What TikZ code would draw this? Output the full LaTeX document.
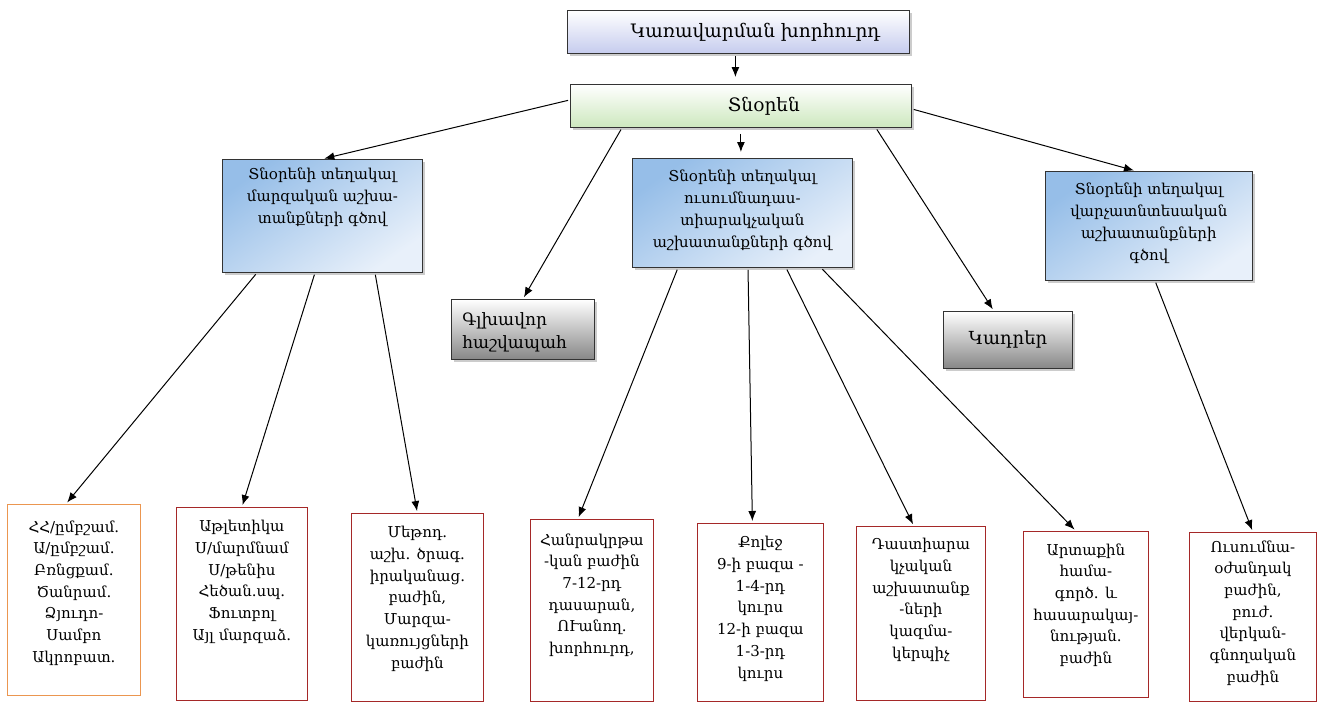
\documentclass[tikz,border=0pt]{standalone}
\usepackage{fontspec}
\setmainfont{DejaVu Serif}
\usetikzlibrary{arrows.meta,shadows}

\definecolor{lavbot}{RGB}{198,204,238}
\definecolor{greenbot}{RGB}{205,232,190}
\definecolor{bluedark}{RGB}{150,190,232}
\definecolor{bluelight}{RGB}{232,240,250}
\definecolor{greybot}{RGB}{135,135,135}
\definecolor{redline}{RGB}{165,40,40}
\definecolor{orangeline}{RGB}{235,150,80}
\newcommand{\boxtext}[4]{\parbox[c][#1][t]{#2}{\centering\vspace*{#3}#4\par}}

\begin{document}
\begin{tikzpicture}[x=1pt, y=-1pt,
  every node/.style={inner sep=0pt, font=\fontsize{15}{21.7}\selectfont},
  head/.style={draw=black!80, line width=0.8pt,
    drop shadow={opacity=0.4, shadow xshift=2.5pt, shadow yshift=-2.5pt}},
  board/.style={head, top color=white, bottom color=lavbot},
  chief/.style={head, top color=white, bottom color=greenbot},
  deputy/.style={head, top color=bluedark, bottom color=bluelight, shading angle=35},
  service/.style={head, top color=white, bottom color=greybot},
  unit/.style={draw=redline, line width=0.8pt, fill=white},
  link/.style={-{Latex[length=10pt, width=8pt]}, line width=1pt, shorten <=2pt, shorten >=2pt}]
  \useasboundingbox (0,0) rectangle (1318,702);

  \node (kh) [board, anchor=north west, minimum width=342pt, minimum height=43pt,
    font=\fontsize{18.5}{20}\selectfont] at (567,10) {\hspace*{34pt}Կառավարման խորհուրդ};
  \node (tn) [chief, anchor=north west, minimum width=341pt, minimum height=43pt,
    font=\fontsize{18.5}{20}\selectfont] at (570,84) {\hspace*{46pt}Տնօրեն};

  \node (d1) [deputy, anchor=north west] at (222,159)
    {\boxtext{113pt}{200pt}{9pt}{Տնօրենի տեղակալ\\մարզական աշխա-\\տանքների գծով}};
  \node (g) [service, anchor=north west] at (451,299)
    {\parbox[c][60pt][c]{143pt}{\leftskip=11pt\fontsize{17}{23}\selectfont\vspace*{6pt}Գլխավոր\\հաշվապահ}};
  \node (d2) [deputy, anchor=north west] at (632,158)
    {\boxtext{109pt}{220pt}{12pt}{Տնօրենի տեղակալ\\ուսումնադաս-\\տիարակչական\\աշխատանքների գծով}};
  \node (k) [service, anchor=north west, minimum width=129pt, minimum height=57pt,
    font=\fontsize{18}{20}\selectfont] at (943,311) {Կադրեր};
  \node (d3) [deputy, anchor=north west] at (1045,171)
    {\boxtext{109pt}{207pt}{12pt}{Տնօրենի տեղակալ\\վարչատնտեսական\\աշխատանքների\\գծով}};

  \node (b1) [unit, draw=orangeline, anchor=north west] at (7,504)
    {\boxtext{191pt}{133pt}{16pt}{ՀՀ/ըմբշամ.\\Ա/ըմբշամ.\\Բռնցքամ.\\Ծանրամ.\\Ձյուդո-\\Սամբո\\Ակրոբատ.}};
  \node (b2) [unit, anchor=north west] at (176,507)
    {\boxtext{193pt}{131pt}{13pt}{Աթլետիկա\\Ս/մարմնամ\\Ս/թենիս\\Հեծան.սպ.\\Ֆուտբոլ\\Այլ մարզաձ.}};
  \node (b3) [unit, anchor=north west] at (351,513)
    {\boxtext{188pt}{132pt}{13pt}{Մեթոդ.\\աշխ. ծրագ.\\իրականաց.\\բաժին,\\Մարզա-\\կառույցների\\բաժին}};
  \node (b4) [unit, anchor=north west] at (530,519)
    {\boxtext{182pt}{123pt}{14pt}{Հանրակրթա\\-կան բաժին\\7-12-րդ\\դասարան,\\ՈՒանող.\\խորհուրդ,}};
  \node (b5) [unit, anchor=north west] at (697,523)
    {\boxtext{178pt}{126pt}{13pt}{Քոլեջ\\9-ի բազա -\\1-4-րդ\\կուրս\\12-ի բազա\\1-3-րդ\\կուրս}};
  \node (b6) [unit, anchor=north west] at (856,526)
    {\boxtext{174pt}{129pt}{12pt}{Դաստիարա\\կչական\\աշխատանք\\-ների\\կազմա-\\կերպիչ}};
  \node (b7) [unit, anchor=north west] at (1023,531)
    {\boxtext{166pt}{125pt}{12pt}{Արտաքին\\համա-\\գործ. և\\հասարակայ-\\նության.\\բաժին}};
  \node (b8) [unit, anchor=north west] at (1189,532)
    {\boxtext{169pt}{127pt}{8pt}{Ուսումնա-\\օժանդակ\\բաժին,\\բուժ.\\վերկան-\\գնողական\\բաժին}};

  \draw [link, shorten >=7pt] ([xshift=-3pt]kh.south) -- ([xshift=-3pt]kh.south |- tn.north);
  \draw [link, shorten <=6pt, shorten >=6pt] (tn.south) -- (tn.south |- d2.north);
  \draw [link] ([yshift=6pt]tn.west) -- (d1.north);
  \draw [link] ([xshift=52pt]tn.south west) -- (g.north);
  \draw [link] ([xshift=-36pt]tn.south east) -- ([xshift=-14pt]k.north);
  \draw [link] ([yshift=-3pt]tn.east) -- ([xshift=-13pt]d3.north);
  \draw [link] ([xshift=35pt]d1.south west) -- ([xshift=-8pt]b1.north);
  \draw [link] ([xshift=93pt]d1.south west) -- (b2.north);
  \draw [link] ([xshift=153pt]d1.south west) -- (b3.north);
  \draw [link] ([xshift=46pt]d2.south west) -- ([xshift=-14pt]b4.north);
  \draw [link] ([xshift=116pt]d2.south west) -- ([xshift=-8pt]b5.north);
  \draw [link] ([xshift=154pt]d2.south west) -- ([xshift=-7pt]b6.north);
  \draw [link] ([xshift=189pt]d2.south west) -- ([xshift=-10pt]b7.north);
  \draw [link] ([xshift=110pt]d3.south west) -- (b8.north);
\end{tikzpicture}
\end{document}
